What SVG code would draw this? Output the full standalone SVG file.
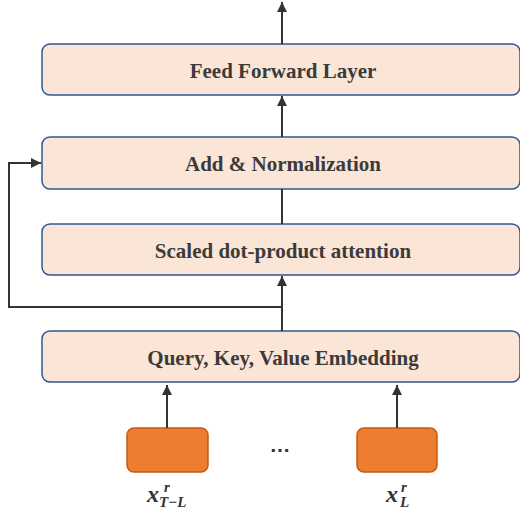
<svg xmlns="http://www.w3.org/2000/svg" width="520" height="511" viewBox="0 0 520 511">
  <style>
    .block { fill: #fbe5d6; stroke: #2f5597; stroke-width: 1.5; }
    .input { fill: #ed7d31; stroke: #c55a11; stroke-width: 1.5; }
    .label { font-family: "Liberation Serif", "Times New Roman", serif; font-weight: bold; font-size: 21px; fill: #3b3b3b; text-anchor: middle; }
    .math { font-family: "Liberation Serif", "Times New Roman", serif; font-style: italic; font-weight: bold; fill: #333333; }
    .big { font-size: 24px; }
    .small { font-size: 15px; }
    .wire { fill: none; stroke: #333333; stroke-width: 2; }
  </style>
  <defs>
    <marker id="arrow" viewBox="0 0 10 10" refX="10" refY="5" markerWidth="5" markerHeight="5" orient="auto" markerUnits="strokeWidth">
      <path d="M0,0 L10,5 L0,10 z" fill="#333333"/>
    </marker>
  </defs>

  <g id="feed-forward">
    <rect class="block" x="42" y="44" width="478" height="51" rx="8"/>
    <text class="label" x="283" y="78">Feed Forward Layer</text>
  </g>
  <g id="add-norm">
    <rect class="block" x="42" y="137" width="478" height="52" rx="8"/>
    <text class="label" x="283" y="171">Add &amp; Normalization</text>
  </g>
  <g id="attention">
    <rect class="block" x="42" y="224" width="478" height="51" rx="8"/>
    <text class="label" x="283" y="258">Scaled dot-product attention</text>
  </g>
  <g id="qkv-embedding">
    <rect class="block" x="42" y="331" width="478" height="51" rx="8"/>
    <text class="label" x="283" y="365">Query, Key, Value Embedding</text>
  </g>
  <g id="input-first">
    <rect class="input" x="127" y="428" width="81" height="44" rx="7"/>
    <text class="math big" x="147" y="502">x</text>
    <text class="math small" x="164" y="492">r</text>
    <text class="math small" x="159" y="507">T−L</text>
  </g>
  <g id="ellipsis">
    <text x="280" y="452" text-anchor="middle" font-family="Liberation Sans, Arial, sans-serif" font-size="21" font-weight="bold" fill="#333333">…</text>
  </g>
  <g id="input-last">
    <rect class="input" x="357" y="428" width="80" height="44" rx="7"/>
    <text class="math big" x="386" y="502">x</text>
    <text class="math small" x="401" y="492">r</text>
    <text class="math small" x="400" y="507">L</text>
  </g>

  <g id="connectors">
    <line class="wire" x1="282" y1="44" x2="282" y2="2" marker-end="url(#arrow)"/>
    <line class="wire" x1="282" y1="137" x2="282" y2="96" marker-end="url(#arrow)"/>
    <line class="wire" x1="282" y1="224" x2="282" y2="189"/>
    <line class="wire" x1="282" y1="331" x2="282" y2="276" marker-end="url(#arrow)"/>
    <polyline class="wire" points="282,307 9,307 9,163 41,163" marker-end="url(#arrow)"/>
    <line class="wire" x1="167" y1="428" x2="167" y2="385" marker-end="url(#arrow)"/>
    <line class="wire" x1="397" y1="428" x2="397" y2="385" marker-end="url(#arrow)"/>
  </g>
</svg>
